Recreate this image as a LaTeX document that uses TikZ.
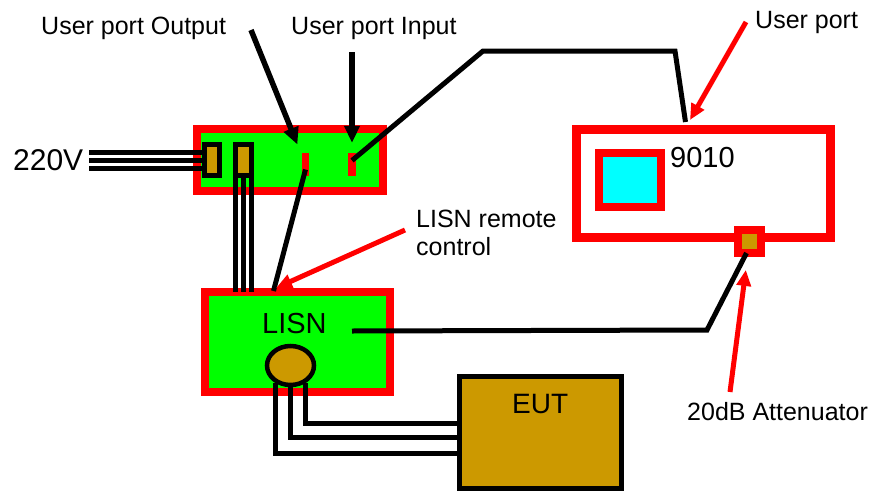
\documentclass[tikz,border=0pt]{standalone}
\usepackage{fontspec}
\setmainfont{Liberation Sans}
\usetikzlibrary{arrows.meta,positioning,shapes.geometric}
\definecolor{boxred}{RGB}{255,0,0}
\definecolor{boardgreen}{RGB}{0,255,0}
\definecolor{plugbrown}{RGB}{204,153,0}
\definecolor{screencyan}{RGB}{0,255,255}

\begin{document}
\begin{tikzpicture}[x=1pt,y=-1pt,
    board/.style={draw=boxred,fill=boardgreen,line width=8pt,inner sep=0pt},
    plug/.style={draw=black,fill=plugbrown,line width=5pt,inner sep=0pt},
    port/.style={fill=boxred,inner sep=0pt,minimum width=7.5pt,minimum height=23pt},
    wire/.style={black,line width=5pt},
    callout/.style={black,line width=5.5pt,-{Triangle[length=17pt,width=15pt]}},
    redcallout/.style={boxred,line width=5pt,-{Triangle[length=16pt,width=14pt]}},
    lbl/.style={anchor=base west,inner sep=0pt,font=\fontsize{25}{28}\selectfont},
    biglbl/.style={anchor=base west,inner sep=0pt,font=\fontsize{29}{32}\selectfont}]
  \useasboundingbox (0,0) rectangle (871,493);

  % power strip with the two plugs and the user ports
  \node[board,minimum width=186pt,minimum height=62pt] (strip) at (290,160) {};
  \node[plug,minimum width=15pt,minimum height=31pt] (plugA) at (212,160) {};
  \node[plug,minimum width=16pt,minimum height=31pt] (plugB) at (243.5,160) {};
  \node[port] (outport) at (305.5,164.5) {};
  \node[port] (inport) at (352,164.5) {};

  % LISN, EUT and receiver
  \node[board,minimum width=185pt,minimum height=100pt] (lisn) at (297.5,342) {};
  \node[draw=black,fill=plugbrown,line width=4.5pt,ellipse,inner sep=0pt,
        minimum width=47pt,minimum height=39pt] (lisnplug) at (290.5,365.5) {};
  \node[plug,minimum width=162pt,minimum height=111.5pt] (eut) at (540.5,432.25) {};
  \node[draw=boxred,fill=white,line width=9pt,inner sep=0pt,
        minimum width=254pt,minimum height=108pt] (analyser) at (703.5,183.5) {};
  \node[draw=boxred,fill=screencyan,line width=8pt,inner sep=0pt,
        minimum width=62pt,minimum height=54pt] (screen) at (630,180) {};
  \node[draw=boxred,fill=plugbrown,line width=8pt,inner sep=0pt,
        minimum width=23pt,minimum height=23pt] (atten) at (749.5,241.5) {};

  % texts
  \node[lbl] (outlabel) at (41,34) {User port Output};
  \node[lbl] (inlabel) at (291,34) {User port Input};
  \node[lbl] (portlabel) at (755,28) {User port};
  \node[lbl] (remlabel) at (416,227) {LISN remote};
  \node[lbl] (remlabel2) at (416,255) {control};
  \node[lbl] (attlabel) at (687,420) {20dB Attenuator};
  \node[biglbl,font=\fontsize{30}{33}\selectfont] (mains) at (13,170) {220V};
  \node[biglbl] (lisnlabel) at (262,333) {LISN};
  \node[biglbl] (analyserlabel) at (670,167) {9010};
  \node[biglbl,font=\fontsize{28}{31}\selectfont] (eutlabel) at (512,413) {EUT};

  \coordinate (mainsend) at (89,160);
  \coordinate (outtail) at (251,30);
  \coordinate (intail) at (352,52);
  \coordinate (porttail) at (746,22);
  \coordinate (remtail) at (405,230);
  \coordinate (atttail) at (730,392);
  \coordinate (inbend1) at (483,51);
  \coordinate (inbend2) at (675,51);
  \coordinate (lisnout) at (352,331);
  \coordinate (attbend) at (707,330);

  % cables
  \foreach \dy in {-8,0,8}
    \draw[wire] ([yshift=\dy pt]mainsend) -- ([yshift=\dy pt]plugA.west);
  \foreach \dx in {-8,0,8}
    \draw[wire] ([xshift=\dx pt]plugB.south) -- ([xshift=\dx pt,yshift=-4pt]plugB.south |- lisn.north);
  \foreach \dx/\dy/\ey in {-15/4/-20.75,0/0/-5.25,15/4/9.25}
    \draw[wire] ([xshift=\dx pt,yshift=\dy pt]lisnplug.south) |- ([yshift=\ey pt]eut.west);
  \draw[wire] ([yshift=-5pt]outport.center) -- ([xshift=-24pt,yshift=-3pt]lisn.north);
  \draw[wire] ([yshift=4pt]inport.center) -- (inbend1) -- (inbend2) -- ([xshift=-18pt,yshift=3pt]analyser.north);
  \draw[wire] (lisnout) -- (attbend) -- ([xshift=-3pt,yshift=4pt]atten.south);

  % pointers
  \draw[callout,shorten >=11pt] (outtail) -- (outport);
  \draw[callout,shorten >=10pt] (intail) -- (inport);
  \draw[redcallout] (porttail) -- ([xshift=-13.5pt,yshift=5pt]analyser.north);
  \draw[redcallout] (remtail) -- ([xshift=-21.5pt]lisn.north);
  \draw[redcallout,shorten >=13pt] (atttail) -- (atten);
\end{tikzpicture}
\end{document}
